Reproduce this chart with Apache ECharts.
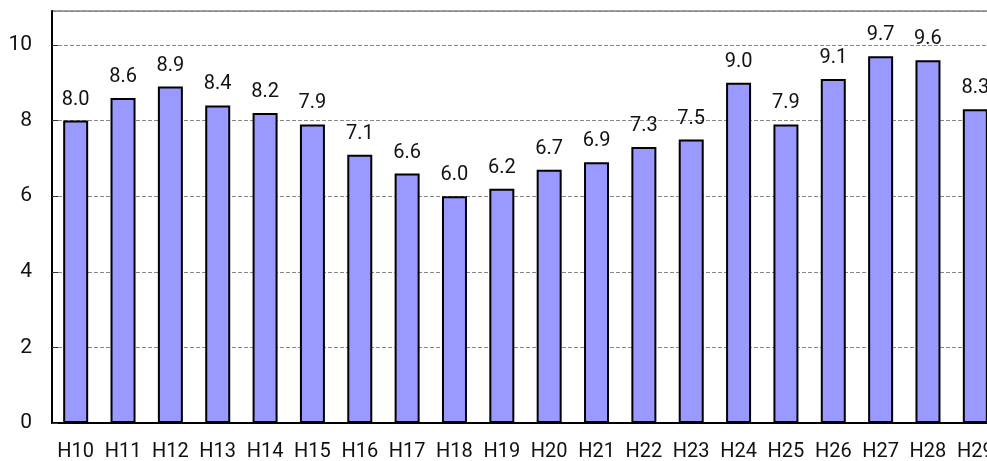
<!DOCTYPE html>
<html><head><meta charset="utf-8">
<script src="https://cdn.jsdelivr.net/npm/echarts@6/dist/echarts.min.js"></script>
<style>html,body{margin:0;padding:0;background:#fff}#c{width:987px;height:461px}</style>
</head><body><div id="c"></div>
<script>
const categories = ['H10','H11','H12','H13','H14','H15','H16','H17','H18','H19','H20','H21','H22','H23','H24','H25','H26','H27','H28','H29'];
const values = [8.0,8.6,8.9,8.4,8.2,7.9,7.1,6.6,6.0,6.2,6.7,6.9,7.3,7.5,9.0,7.9,9.1,9.7,9.6,8.3];
const yTicks = [0,2,4,6,8,10];

const font = 'Roboto, "DejaVu Sans", sans-serif';
const chart = echarts.init(document.getElementById('c'));
chart.setOption({
  animation: false,
  grid: {left: 52, top: 11, width: 947, height: 412, outerBoundsMode: 'none', containLabel: false,
    show: true, borderColor: '#a0a0a0', borderWidth: 2, backgroundColor: 'transparent'},
  xAxis: {
    type: 'category', data: categories,
    axisLine: {lineStyle: {color: '#000', width: 2}},
    axisTick: {inside: true, length: 4, lineStyle: {color: '#000'}},
    axisLabel: {color: '#111', fontSize: 20, fontFamily: font, margin: 19, interval: 0}
  },
  yAxis: {
    type: 'value', min: 0, max: 10.9, interval: 2,
    axisLine: {show: true, lineStyle: {color: '#000', width: 2}},
    axisTick: {show: true, inside: true, length: 6, lineStyle: {color: '#333'}},
    axisLabel: {color: '#111', fontSize: 21, fontFamily: font, margin: 20, showMaxLabel: false,
      formatter: v => yTicks.includes(v) ? String(v) : ''},
    splitLine: {show: true, lineStyle: {color: '#888', type: [4, 2], width: 1}}
  },
  series: [{
    type: 'bar', data: values, barWidth: 25,
    itemStyle: {color: '#9999ff', borderColor: '#000', borderWidth: 2},
    label: {show: true, position: 'top', distance: 11, color: '#111', fontSize: 20, fontFamily: font,
      formatter: p => p.value.toFixed(1)}
  }]
});
</script></body></html>
